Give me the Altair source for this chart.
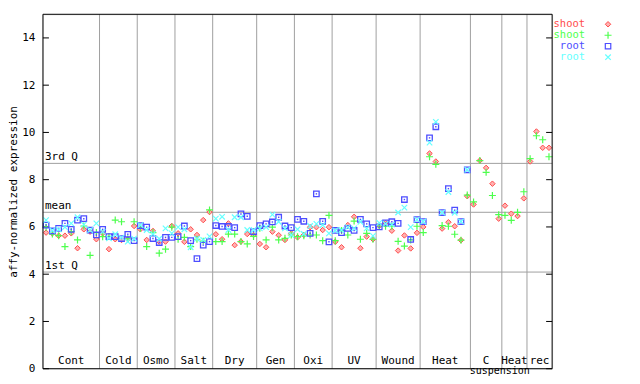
import altair as alt
import pandas as pd

# ---------------- data ----------------
groups = ["Cont", "Cold", "Osmo", "Salt", "Dry", "Gen", "Oxi", "UV", "Wound",
          "Heat", "C", "Heat", "rec"]
group_sizes = [9, 6, 6, 6, 7, 6, 6, 7, 7, 8, 5, 4, 4]
sub_label = ["", "", "", "", "", "", "", "", "", "", "suspension", "", ""]

shoot_red = [5.76, 5.73, 5.63, 5.63, 5.73, 5.10, 5.90, 5.80, 5.48, 5.73,
             5.06, 5.48, 5.45, 5.48, 6.04, 5.90, 5.45, 5.83, 5.38, 5.38,
             6.04, 5.73, 5.37, 5.90, 5.66, 6.29, 6.63, 5.69, 5.48, 6.15,
             5.23, 5.38, 5.70, 5.66, 5.28, 5.14, 5.80, 5.65, 5.45, 5.73,
             5.56, 5.66, 5.99, 5.99, 5.87, 5.99, 5.37, 5.14, 6.08, 6.43,
             5.10, 5.59, 5.48, 6.05, 6.17, 5.84, 5.00, 5.64, 5.09, 5.75,
             6.00, 9.11, 8.77, 5.93, 6.20, 6.03, 5.44, 7.30, 6.95, 8.81,
             8.50, 7.83, 6.35, 6.90, 6.56, 6.46, 7.21, 8.77, 10.04, 9.35,
             9.35]
shoot_green = [5.99, 5.70, 5.63, 5.17, 5.80, 5.45, 6.04, 4.80, 5.76, 5.59,
               5.60, 6.29, 6.22, 5.50, 6.22, 5.94, 5.17, 5.76, 4.89, 5.06,
               5.99, 5.48, 5.56, 5.17, 5.48, 5.40, 6.72, 5.38, 5.38, 5.70,
               5.70, 5.38, 5.28, 5.60, 5.94, 5.45, 5.99, 5.45, 5.52, 5.66,
               5.59, 5.63, 5.66, 5.66, 5.42, 6.49, 5.42, 5.85, 5.66, 6.25,
               5.48, 5.73, 5.48, 6.04, 6.03, 6.03, 5.39, 5.19, 5.45, 6.03,
               5.76, 8.97, 8.65, 6.06, 6.03, 5.69, 5.44, 7.35, 7.06, 8.81,
               8.31, 7.33, 6.52, 6.49, 6.28, 6.62, 7.49, 8.89, 9.86, 9.69,
               8.97]
root_blue = [6.08, 5.83, 5.94, 6.15, 5.90, 6.29, 6.35, 5.87, 5.66, 5.90,
             5.59, 5.59, 5.51, 5.69, 5.42, 6.06, 5.99, 5.51, 5.34, 5.56,
             5.56, 5.59, 6.04, 5.42, 4.66, 5.23, 5.38, 6.06, 6.02, 6.02,
             5.97, 6.55, 6.45, 5.80, 6.06, 6.13, 6.21, 6.41, 6.04, 5.97,
             6.32, 6.24, 5.73, 7.40, 6.24, 5.37, 5.85, 5.76, 5.94, 5.85,
             6.32, 6.13, 5.97, 6.00, 6.17, 6.22, 6.15, 7.16, 5.47, 6.31,
             6.23, 9.77, 10.24, 6.61, 7.62, 6.71, 6.23, 8.42] + [None] * 13
root_cyan = [6.29, 5.85, 5.90, 5.99, 6.15, 6.41, 6.10, 5.87, 6.15, 5.80,
             5.52, 5.69, 5.55, 5.38, 5.50, 6.08, 5.87, 5.70, 5.50, 5.94,
             5.73, 5.99, 5.90, 5.14, 5.50, 5.45, 5.60, 6.35, 6.43, 5.87,
             6.41, 6.41, 5.87, 5.87, 5.94, 5.99, 6.52, 6.22, 5.94, 5.66,
             5.90, 5.70, 6.04, 6.13, 6.08, 5.73, 5.85, 5.87, 5.99, 5.94,
             6.22, 5.94, 5.62, 6.17, 6.13, 6.10, 6.61, 6.82, 5.99, 6.31,
             6.23, 9.57, 10.45, 6.61, 7.48, 6.60, 6.23, 8.42] + [None] * 13

quartile_names = ["3rd Q", "mean", "1st Q"]
quartile_values = [8.69, 6.62, 4.09]

y_ticks = [0, 2, 4, 6, 8, 10, 12, 14]

legend_names = ["shoot", "shoot", "root", "root"]
series_keys = ["sr", "sg", "rb", "rc"]
colors = ["#ff4d4d", "#4dff4d", "#4d4dff", "#66ffff"]

# ---------------- tables ----------------
n = sum(group_sizes)
rows = []
for key, vals in zip(series_keys, [shoot_red, shoot_green, root_blue, root_cyan]):
    for i, v in enumerate(vals):
        if v is not None:
            rows.append({"idx": i + 0.5, "val": v, "series": key})
pts = pd.DataFrame(rows)

bounds = []
centers = []
acc = 0
for s in group_sizes:
    centers.append(acc + s / 2)
    acc += s
    bounds.append(acc)
bound_df = pd.DataFrame({"b": bounds[:-1]})
lab_df = pd.DataFrame({"c": centers, "end": bounds, "label": groups, "sub": sub_label})
q_df = pd.DataFrame({"name": quartile_names, "q": quartile_values})
tick_df = pd.DataFrame({"t": y_ticks})

FONT = "DejaVu Sans Mono"
FS = 11
W, H = 510, 355

xsc = alt.Scale(domain=[0, n], nice=False, zero=False)
ysc = alt.Scale(domain=[0, 15], nice=False, zero=True)
yaxis = alt.Axis(
    values=y_ticks, ticks=False, domain=False, grid=False,
    labelFont=FONT, labelFontSize=FS, labelColor="black", labelPadding=8,
    title="affy-normalized expression", titleFont=FONT, titleFontSize=FS,
    titleFontWeight="normal", titleColor="black", titlePadding=3)
TITLE = "affy-normalized expression"


def Y(field):
    return alt.Y(field, scale=ysc, axis=yaxis, title=TITLE)


grid = alt.Chart(bound_df).mark_rule(color="#a0a0a0", strokeWidth=1).encode(
    x=alt.X("b:Q", scale=xsc, axis=None))

qlines = alt.Chart(q_df).mark_rule(color="#a0a0a0", strokeWidth=1).encode(
    y=Y("q:Q"))

qtext = alt.Chart(q_df).mark_text(font=FONT, fontSize=FS, align="left",
                                   baseline="bottom", dx=2, dy=-1,
                                   color="black").encode(
    x=alt.value(0), y=Y("q:Q"), text="name:N")

tick_l = alt.Chart(tick_df).mark_rule(color="black").encode(
    x=alt.value(0), x2=alt.value(6), y=Y("t:Q"))
tick_r = alt.Chart(tick_df).mark_rule(color="black").encode(
    x=alt.value(W - 6), x2=alt.value(W), y=Y("t:Q"))

glabels = alt.Chart(lab_df).mark_text(font=FONT, fontSize=FS, baseline="bottom",
                                       align="center", dy=-3, color="black").encode(
    x=alt.X("c:Q", scale=xsc, axis=None), y=alt.datum(0), text="label:N")
gsub = alt.Chart(lab_df).transform_filter("datum.sub != ''").mark_text(
    font=FONT, fontSize=10, baseline="bottom", align="center", dy=7, dx=-2,
    color="black").encode(
    x=alt.X("end:Q", scale=xsc, axis=None), y=alt.datum(0), text="sub:N")

base = alt.Chart(pts)
enc = dict(x=alt.X("idx:Q", scale=xsc, axis=None), y=Y("val:Q"))

PLUS = "M-1,0L1,0M0,-1L0,1"
CROSS = "M-1,-1L1,1M-1,1L1,-1"

red = base.transform_filter("datum.series == 'sr'").mark_point(
    shape="diamond", size=30, filled=True, fill="#ffb0b0", stroke=colors[0],
    strokeWidth=1, opacity=1).encode(**enc)
green = base.transform_filter("datum.series == 'sg'").mark_point(
    shape=PLUS, size=49, filled=False, stroke=colors[1], strokeWidth=1.2,
    opacity=1).encode(**enc)
blue = base.transform_filter("datum.series == 'rb'").mark_point(
    shape="square", size=30, filled=False, stroke=colors[2], strokeWidth=1.3,
    opacity=1).encode(**enc)
blue_dot = base.transform_filter("datum.series == 'rb'").mark_point(
    shape="square", size=2, filled=True, color=colors[2], opacity=1).encode(**enc)
cyan = base.transform_filter("datum.series == 'rc'").mark_point(
    shape=CROSS, size=30, filled=False, stroke=colors[3], strokeWidth=1.2,
    opacity=1).encode(**enc)

frame = alt.Chart(pd.DataFrame({"f": [0]})).mark_rect(
    filled=False, stroke="black", strokeWidth=1, fill=None).encode(
    x=alt.value(0), x2=alt.value(W), y=alt.value(0), y2=alt.value(H))

# legend (outside the plot, right side)
leg_layers = []
shapes = [("diamond", 30, True), (PLUS, 49, False), ("square", 30, False),
          (CROSS, 30, False)]
for k, (name, col, (shp, sz, fil)) in enumerate(zip(legend_names, colors, shapes)):
    ldf = pd.DataFrame({"name": [name]})
    yy = 10 + 11 * k
    leg_layers.append(alt.Chart(ldf).mark_text(
        font=FONT, fontSize=10.5, align="right", baseline="middle",
        color=col).encode(x=alt.value(543), y=alt.value(yy), text="name:N"))
    if fil:
        m = alt.Chart(ldf).mark_point(shape=shp, size=sz, filled=True,
                                      fill="#ffb0b0", stroke=col, strokeWidth=1,
                                      opacity=1)
    else:
        m = alt.Chart(ldf).mark_point(shape=shp, size=sz, filled=False,
                                      stroke=col, strokeWidth=1.2, opacity=1)
    leg_layers.append(m.encode(x=alt.value(566), y=alt.value(yy)))

chart = alt.layer(
    qlines, grid, qtext, tick_l, tick_r, glabels, gsub,
    red, green, blue, blue_dot, cyan, frame, *leg_layers
).properties(
    width=W, height=H,
    autosize=alt.AutoSizeParams(type="none"),
    padding={"left": 35, "top": 6, "right": 80, "bottom": 7},
).configure_view(stroke=None).configure(background="white")

chart.save("out.html", embed_options={"renderer": "svg", "actions": False})
